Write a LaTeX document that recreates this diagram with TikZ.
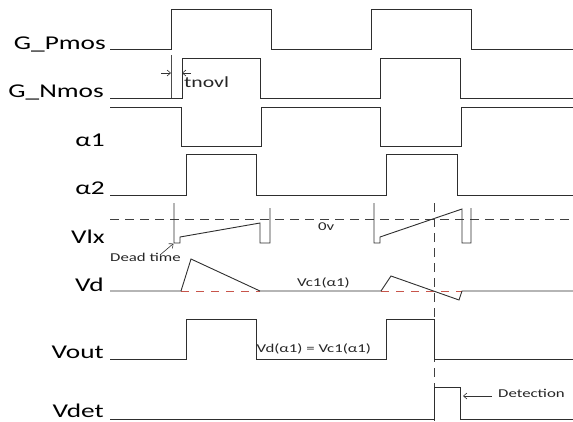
\documentclass[tikz,border=0pt]{standalone}
\usepackage{fontspec}
\setmainfont{Carlito}
\newfontfamily\stretchf[FakeStretch=1.4]{Carlito}
\usetikzlibrary{arrows.meta}
\definecolor{refred}{RGB}{200,85,75}
\begin{document}
\begin{tikzpicture}[x=1pt,y=-1pt,
 sig/.style={draw=black!82, line width=0.9pt},
 thin sig/.style={draw=black!70, line width=0.6pt},
 lbl/.style={anchor=base east, inner sep=0pt, font=\stretchf\fontsize{19.5}{20}\selectfont},
 note/.style={anchor=base west, inner sep=0pt, font=\stretchf\fontsize{12}{13}\selectfont, text=black!85},
 dsh/.style={draw=black!75, line width=0.9pt, dash pattern=on 9pt off 6pt},
 rdsh/.style={draw=refred, line width=0.8pt, dash pattern=on 8pt off 7pt},
 arr/.style={draw=black!80, line width=0.6pt, -{Straight Barb[length=3.5pt,width=6pt]}},
]
\useasboundingbox (0,0) rectangle (573,421);
% labels
\node[lbl] (lgp) at (106,49) {G\_Pmos};
\node[lbl] (lgn) at (104,97) {G\_Nmos};
\node[lbl] (la1) at (105,146) {α1};
\node[lbl] (la2) at (105,194) {α2};
\node[lbl] (llx) at (105,243) {Vlx};
\node[lbl] (lvd) at (104,291) {Vd};
\node[lbl] (lvo) at (104,358) {Vout};
\node[lbl] (lvt) at (104,417) {Vdet};
% G_Pmos
\draw[sig] (110,49) -- (171,49) -- (171,9) -- (271,9) -- (271,49) -- (371,49) -- (371,9) -- (471,9) -- (471,49) -- (573,49);
% G_Nmos
\draw[sig] (110,98) -- (182,98) -- (182,58) -- (260,58) -- (260,98) -- (380,98) -- (380,58) -- (460,58) -- (460,98) -- (573,98);
% alpha1
\draw[sig] (110,107) -- (181,107) -- (181,146) -- (261,146) -- (261,107) -- (380,107) -- (380,146) -- (461,146) -- (461,107) -- (573,107);
% alpha2
\draw[sig] (110,195) -- (186,195) -- (186,154) -- (256,154) -- (256,195) -- (386,195) -- (386,154) -- (457,154) -- (457,195) -- (573,195);
% tnovl
\draw[thin sig] (171,55) -- (171,98);
\coordinate (t1) at (171,73);
\coordinate (t2) at (182,73);
\draw[arr] (161,73) -- (t1);
\draw[arr] (191,73) -- (t2);
\node[note, font=\stretchf\fontsize{15.5}{16}\selectfont] (ltn) at (184,87.5) {tnovl};
% Vlx
\draw[dsh] (110,219) -- (573,219);
\draw[sig] (174,203) -- (174,243) -- (180,243) -- (180,237) -- (260,223) -- (260,243) -- (270,243) -- (270,208);
\draw[sig] (374,203) -- (374,243) -- (380,243) -- (380,237) -- (462,209) -- (462,243) -- (471,243) -- (471,208);
\node[note] (l0v) at (318,230) {0v};
\node[note] (ldt) at (110,261) {Dead time};
\coordinate (dtp) at (173.5,243.5);
\draw[arr] (160,255) -- (dtp);
% Vd
\draw[rdsh] (181,291) -- (260,291);
\draw[rdsh] (381,291) -- (462,291);
\draw[sig] (110,291) -- (181,291) -- (191,259) -- (260,291);
\draw[sig] (260,291) -- (381,291) -- (391,276) -- (459,300) -- (462,291) -- (573,291);
\node[note] (lvc) at (297,286) {Vc1(α1)};
% vertical dashed marker
\draw[dsh] (434,203) -- (434,421);
% Vout
\draw[sig] (110,359) -- (186,359) -- (186,319) -- (256,319) -- (256,359) -- (386,359) -- (386,319) -- (434,319) -- (434,359) -- (573,359);
\node[note] (leq) at (256.5,352) {Vd(α1) = Vc1(α1)};
% Vdet
\draw[sig] (110,419) -- (434,419) -- (434,387) -- (460,387) -- (460,419) -- (573,419);
\node[note] (ldet) at (498,397) {Detection};
\coordinate (dp) at (463,396);
\draw[arr] (492,396) -- (dp);
\end{tikzpicture}
\end{document}
